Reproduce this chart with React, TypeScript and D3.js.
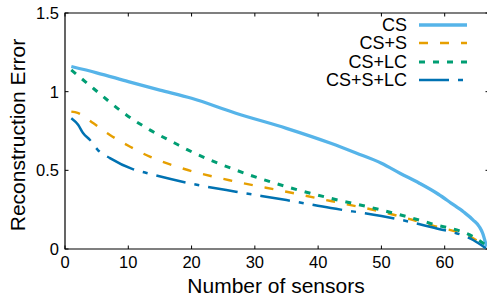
import React from 'react';
import * as d3 from 'd3';

// values
const seriesNames = ['CS', 'CS+S', 'CS+LC', 'CS+S+LC'];

const csX = [1, 5, 10, 15, 20, 27, 35, 42, 46, 50, 53, 56, 59, 61, 63, 64.5, 65.5, 66, 66.6];
const csY = [1.16, 1.12, 1.064, 1.01, 0.958, 0.863, 0.767, 0.672, 0.61, 0.545, 0.48, 0.418, 0.348, 0.292, 0.235, 0.184, 0.14, 0.1, 0.015];

const csSX = [1, 2, 4.5, 7.1, 10.3, 13.4, 16.6, 19.4, 27, 35, 42, 50, 58, 64.5, 66.5];
const csSY = [0.873, 0.865, 0.799, 0.725, 0.65, 0.587, 0.538, 0.502, 0.428, 0.364, 0.305, 0.237, 0.15, 0.068, 0.02];

const csLCX = [1, 4.5, 9.7, 13.4, 17.4, 19.4, 27, 35, 42, 50, 58, 64.5, 66.5];
const csLCY = [1.138, 1.02, 0.852, 0.757, 0.672, 0.63, 0.502, 0.396, 0.322, 0.248, 0.16, 0.078, 0.025];

const csSLCX = [1, 2.1, 2.85, 3.95, 5.2, 7.1, 10.7, 12.9, 19.4, 27, 35, 42, 50, 58, 64.5, 66.5];
const csSLCY = [0.831, 0.788, 0.737, 0.693, 0.629, 0.578, 0.508, 0.483, 0.42, 0.364, 0.311, 0.26, 0.21, 0.138, 0.057, 0.005];

const xTicks = [0, 10, 20, 30, 40, 50, 60];
const yTicks = [0, 0.5, 1, 1.5];
const yTickLabels = ['0', '0.5', '1', '1.5'];

const W = 487;
const H = 301;
const left = 65;
const right = 489;
const top = 13;
const bottom = 249;
const font = '"Liberation Sans", Arial, Helvetica, sans-serif';

const styles = [
  { color: '#56B4E9', width: 3.3, dash: '' },
  { color: '#E69F00', width: 2.4, dash: '9,12' },
  { color: '#009E73', width: 3, dash: '6,8' },
  { color: '#0072B2', width: 2.5, dash: '30,9,5,9' },
];

const App = () => {
  const x = d3.scaleLinear().domain([0, 67]).range([left, right]);
  const y = d3.scaleLinear().domain([0, 1.5]).range([bottom, top]);

  const line = d3
    .line<[number, number]>()
    .x((d) => x(d[0]))
    .y((d) => y(d[1]))
    .curve(d3.curveMonotoneX);

  const series = [
    d3.zip(csX, csY),
    d3.zip(csSX, csSY),
    d3.zip(csLCX, csLCY),
    d3.zip(csSLCX, csSLCY),
  ] as [number, number][][];

  const legendY = [25, 43, 62, 80];

  return (
    <svg width={W} height={H} style={{ position: 'absolute', left: 0, top: 0, background: '#fff' }}>
      {/* frame */}
      <path d={`M${right},${top}H${left}V${bottom}H${right}V${top}`} fill="none" stroke="#000" strokeWidth={1.2} />
      {xTicks.map((t) => (
        <g key={'x' + t}>
          <line x1={x(t)} x2={x(t)} y1={bottom} y2={bottom - 3.5} stroke="#000" />
          <line x1={x(t)} x2={x(t)} y1={top} y2={top + 3.5} stroke="#000" />
          <text x={x(t)} y={268} textAnchor="middle" fontFamily={font} fontSize={16.5}>
            {t}
          </text>
        </g>
      ))}
      {yTicks.map((t, i) => (
        <g key={'y' + t}>
          <line x1={left} x2={left + 3.5} y1={y(t)} y2={y(t)} stroke="#000" />
          <line x1={right} x2={right - 3.5} y1={y(t)} y2={y(t)} stroke="#000" />
          <text x={59} y={y(t)} dy="0.36em" textAnchor="end" fontFamily={font} fontSize={16.5}>
            {yTickLabels[i]}
          </text>
        </g>
      ))}
      <text x={(left + right) / 2 - 1} y={293} textAnchor="middle" fontFamily={font} fontSize={21}>
        Number of sensors
      </text>
      <text
        transform={`translate(25,${(top + bottom) / 2 + 4}) rotate(-90)`}
        textAnchor="middle"
        fontFamily={font}
        fontSize={21}
      >
        Reconstruction Error
      </text>

      {series.map((s, i) => (
        <path
          key={seriesNames[i]}
          d={line(s) || ''}
          fill="none"
          stroke={styles[i].color}
          strokeWidth={styles[i].width}
          strokeDasharray={styles[i].dash || undefined}
        />
      ))}

      {seriesNames.map((n, i) => (
        <g key={'leg' + n}>
          <text x={407} y={legendY[i]} dy="0.36em" textAnchor="end" fontFamily={font} fontSize={18}>
            {n}
          </text>
          <line
            x1={419}
            x2={467}
            y1={legendY[i]}
            y2={legendY[i]}
            stroke={styles[i].color}
            strokeWidth={styles[i].width}
            strokeDasharray={styles[i].dash || undefined}
          />
        </g>
      ))}
    </svg>
  );
};

export default App;
